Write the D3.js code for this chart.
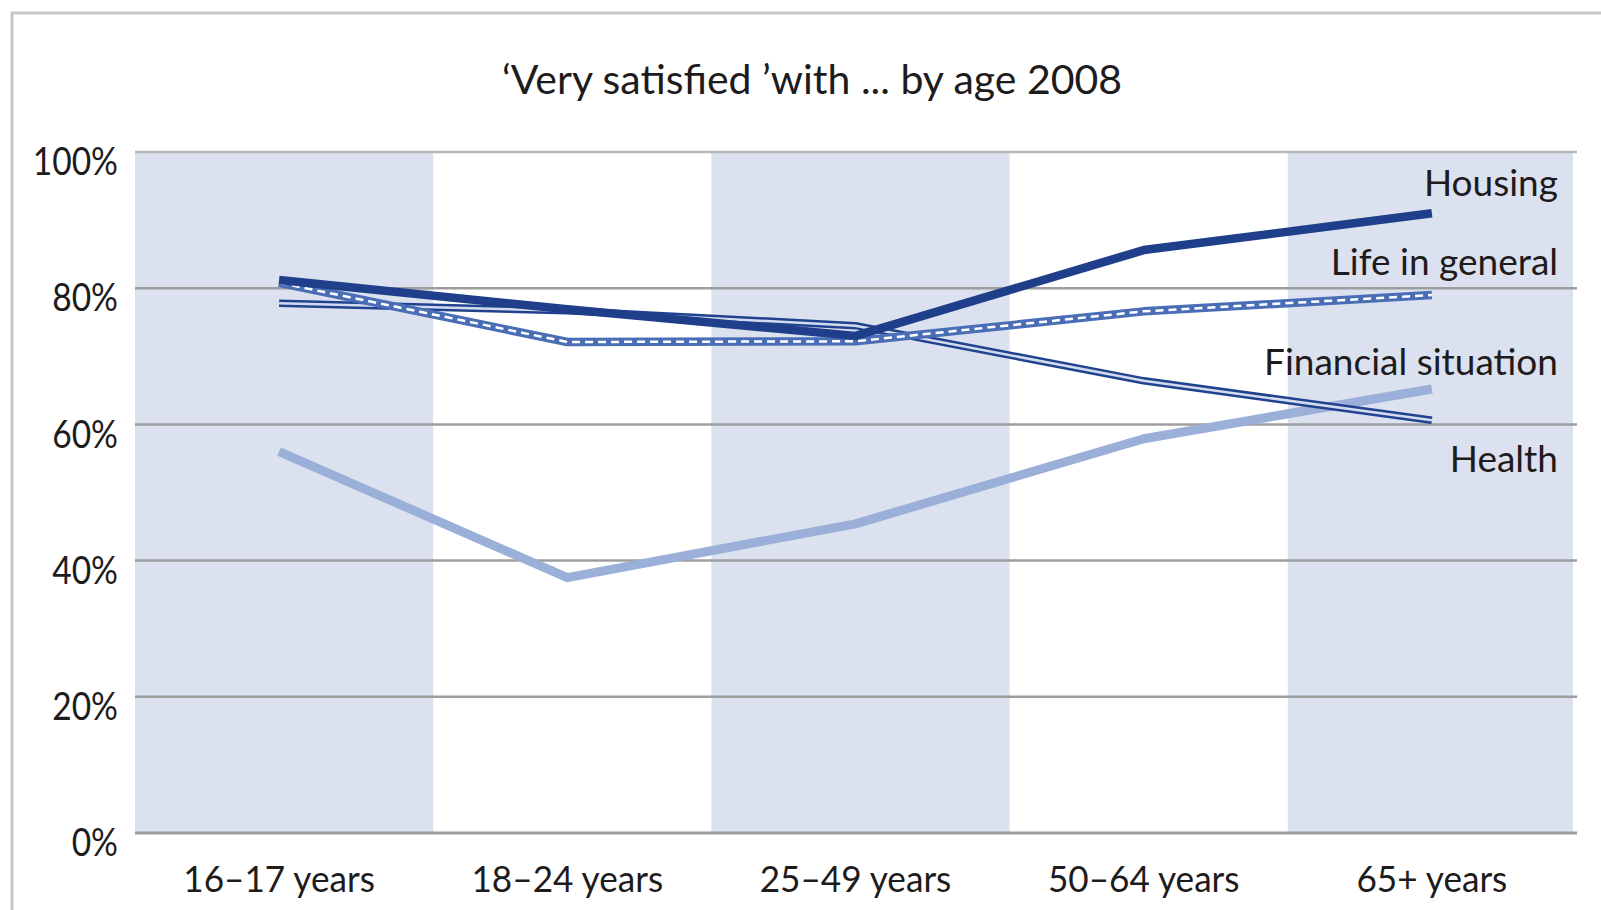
<!DOCTYPE html>
<html><head><meta charset="utf-8">
<script src="https://cdn.jsdelivr.net/npm/d3@7"></script>
<style>
body{margin:0;background:#fff;overflow:hidden}
text{font-family:Lato,"Open Sans",sans-serif;fill:#1e1b1c}
</style>
</head><body>
<svg id="c" width="1601" height="910"></svg>
<script>
// ---- data ----
const categories = ["16–17 years", "18–24 years", "25–49 years", "50–64 years", "65+ years"];
const housing = [81.2, 76.9, 73.0, 85.6, 91.0];
const lifeInGeneral = [80.8, 72.1, 72.2, 76.6, 79.0];
const health = [77.8, 76.7, 74.5, 66.4, 60.6];
const financialSituation = [56.0, 37.5, 45.4, 57.9, 65.2];
const yTicks = [0, 20, 40, 60, 80, 100];
const yTickLabels = ["0%", "20%", "40%", "60%", "80%", "100%"];
const seriesNames = ["Housing", "Life in general", "Financial situation", "Health"];
const titleText = "‘Very satisfied ’with ... by age 2008";

// ---- layout ----
const svg = d3.select("#c");
const L = 135, R = 1576, T = 152, B = 833;
const x = d3.scaleBand().domain(categories).range([L, R]).padding(0);
const y = d3.scaleLinear().domain([0, 100]).range([B, T]);
const cx = c => x(c) + x.bandwidth() / 2;

// frame
svg.append("path").attr("d", "M12,912V13H1603").attr("fill", "none")
  .attr("stroke", "#c6c6c6").attr("stroke-width", 3);

// title
svg.append("text").attr("x", 812).attr("y", 94).attr("text-anchor", "middle")
  .attr("font-size", 41).text(titleText);

// shaded bands
svg.append("g").selectAll("rect").data(categories.filter((d, i) => i % 2 === 0))
  .join("rect")
  .attr("x", d => x(d))
  .attr("y", T)
  .attr("width", d => Math.min(x(d) + x.bandwidth() + 10, R - 3) - x(d))
  .attr("height", B - T).attr("fill", "#dbe1ee");

// gridlines
svg.append("g").selectAll("line").data(yTicks).join("line")
  .attr("x1", L).attr("x2", R + 1).attr("y1", d => y(d)).attr("y2", d => y(d))
  .attr("stroke", d => d === 100 ? "#b8b8b8" : "#9e9e9e")
  .attr("stroke-width", d => d === 0 ? 3 : 2.5);

// y axis labels
const yAxis = d3.axisLeft(y).tickValues(yTicks).tickSize(0)
  .tickFormat((d, i) => yTickLabels[i]);
const gy = svg.append("g").attr("transform", `translate(${L - 14},9)`).call(yAxis);
gy.select(".domain").remove();
gy.selectAll("text").attr("font-size", 39).attr("fill", "#1e1b1c")
  .style("font-family", "Lato, 'Open Sans', sans-serif").attr("dy", "0.35em")
  .attr("textLength", function() { return this.getComputedTextLength() * 0.86; })
  .attr("lengthAdjust", "spacingAndGlyphs");

// x axis labels
const xAxis = d3.axisBottom(x).tickSize(0);
const gx = svg.append("g").attr("transform", `translate(0,${B})`).call(xAxis);
gx.select(".domain").remove();
gx.selectAll("text").attr("font-size", 37).attr("fill", "#1e1b1c")
  .style("font-family", "Lato, 'Open Sans', sans-serif").attr("y", 59).attr("dy", 0)
  .attr("textLength", function() { return this.getComputedTextLength() * 0.95; })
  .attr("lengthAdjust", "spacingAndGlyphs");

// lines
const line = d3.line().x((d, i) => cx(categories[i])).y(d => y(d));
const g = svg.append("g").attr("fill", "none").attr("stroke-linejoin", "round");

// Financial situation
g.append("path").attr("d", line(financialSituation)).attr("stroke", "#9bb0d8").attr("stroke-width", 9);
// Health (double line)
g.append("path").attr("d", line(health)).attr("stroke", "#21428f").attr("stroke-width", 7.5);
g.append("path").attr("d", line(health)).attr("stroke", "#d3dcef").attr("stroke-width", 2.5);
// Life in general (blue with white dashes)
g.append("path").attr("d", line(lifeInGeneral)).attr("stroke", "#4a6eb6").attr("stroke-width", 8.5);
g.append("path").attr("d", line(lifeInGeneral)).attr("stroke", "#ffffff").attr("stroke-width", 2.5)
  .attr("stroke-dasharray", "8,5");
// Housing
g.append("path").attr("d", line(housing)).attr("stroke", "#1f3f8a").attr("stroke-width", 8.5);

// series labels
const last = categories.length - 1;
const labelData = [
  {name: seriesNames[0], v: housing[last], dy: -17},
  {name: seriesNames[1], v: lifeInGeneral[last], dy: -20},
  {name: seriesNames[2], v: financialSituation[last], dy: -14},
  {name: seriesNames[3], v: health[last], dy: 52}
];
svg.append("g").selectAll("text").data(labelData).join("text")
  .attr("x", 1558).attr("y", d => y(d.v) + d.dy).attr("text-anchor", "end")
  .attr("font-size", 37).text(d => d.name);
</script>
</body></html>
